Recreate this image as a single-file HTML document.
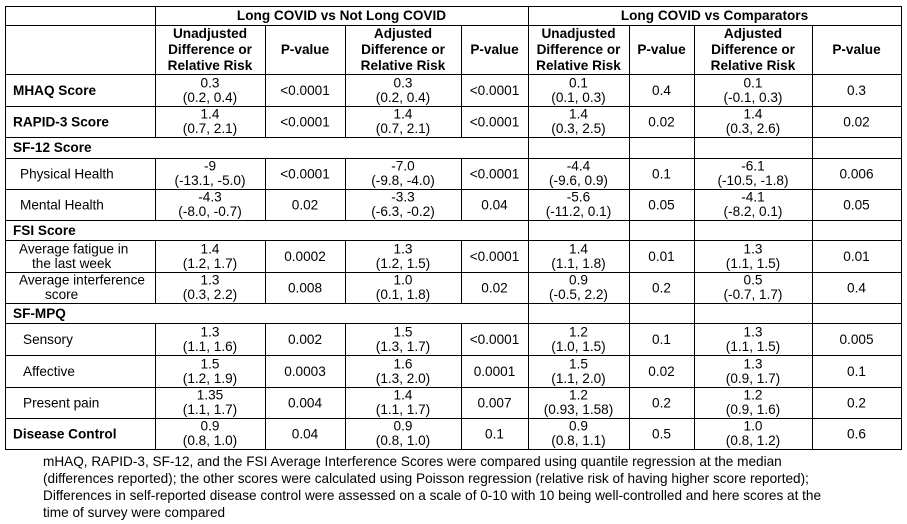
<!DOCTYPE html>
<html><head><meta charset="utf-8"><style>
html,body{margin:0;padding:0;background:#fff;}
svg{display:block;}
text{font-family:"Liberation Sans",Arial,sans-serif;font-size:13.6px;fill:#000;}
.b{font-weight:bold;}
.c{text-anchor:middle;}
</style></head><body>
<svg width="907" height="524" viewBox="0 0 907 524" xmlns="http://www.w3.org/2000/svg">
<rect width="907" height="524" fill="#fff"/>
<g fill="#000" shape-rendering="crispEdges">
<!-- horizontal -->
<rect x="5" y="6" width="897" height="1"/>
<rect x="5" y="25" width="897" height="1"/>
<rect x="5" y="74" width="897" height="1"/>
<rect x="5" y="106" width="897" height="1"/>
<rect x="5" y="137" width="897" height="1"/>
<rect x="5" y="158" width="897" height="1"/>
<rect x="5" y="189" width="897" height="1"/>
<rect x="5" y="220" width="897" height="1"/>
<rect x="5" y="240" width="897" height="1"/>
<rect x="5" y="272" width="897" height="1"/>
<rect x="5" y="303" width="897" height="1"/>
<rect x="5" y="323" width="897" height="1"/>
<rect x="5" y="355" width="897" height="1"/>
<rect x="5" y="387" width="897" height="1"/>
<rect x="5" y="418" width="897" height="1"/>
<rect x="5" y="449" width="897" height="1"/>
<!-- vertical -->
<rect x="5" y="6" width="1" height="444"/>
<rect x="528" y="6" width="1" height="444"/>
<rect x="901" y="6" width="1" height="444"/>
<rect x="629" y="25" width="1" height="425"/>
<rect x="694" y="25" width="1" height="425"/>
<rect x="812" y="25" width="1" height="425"/>
<rect x="155" y="6" width="1" height="131"/>
<rect x="155" y="158" width="1" height="62"/>
<rect x="155" y="240" width="1" height="63"/>
<rect x="155" y="323" width="1" height="127"/>
<rect x="265" y="25" width="1" height="112"/>
<rect x="265" y="158" width="1" height="62"/>
<rect x="265" y="240" width="1" height="63"/>
<rect x="265" y="323" width="1" height="127"/>
<rect x="345" y="25" width="1" height="112"/>
<rect x="345" y="158" width="1" height="62"/>
<rect x="345" y="240" width="1" height="63"/>
<rect x="345" y="323" width="1" height="127"/>
<rect x="461" y="25" width="1" height="112"/>
<rect x="461" y="158" width="1" height="62"/>
<rect x="461" y="240" width="1" height="63"/>
<rect x="461" y="323" width="1" height="127"/>
</g>

<!-- headers -->
<text class="b c" x="341.5" y="20">Long COVID vs Not Long COVID</text>
<text class="b c" x="714.5" y="20">Long COVID vs Comparators</text>

<text class="b c" x="210" y="38">Unadjusted</text>
<text class="b c" x="210" y="54">Difference or</text>
<text class="b c" x="210" y="70">Relative Risk</text>
<text class="b c" x="305" y="54">P-value</text>
<text class="b c" x="403" y="38">Adjusted</text>
<text class="b c" x="403" y="54">Difference or</text>
<text class="b c" x="403" y="70">Relative Risk</text>
<text class="b c" x="494.5" y="54">P-value</text>
<text class="b c" x="578.5" y="38">Unadjusted</text>
<text class="b c" x="578.5" y="54">Difference or</text>
<text class="b c" x="578.5" y="70">Relative Risk</text>
<text class="b c" x="661.5" y="54">P-value</text>
<text class="b c" x="753" y="38">Adjusted</text>
<text class="b c" x="753" y="54">Difference or</text>
<text class="b c" x="753" y="70">Relative Risk</text>
<text class="b c" x="856.5" y="54">P-value</text>

<!-- MHAQ 74-106 -->
<text class="b" x="13" y="95">MHAQ Score</text>
<text class="c" x="210" y="87.5">0.3</text><text class="c" x="210" y="102">(0.2, 0.4)</text>
<text class="c" x="305" y="95">&lt;0.0001</text>
<text class="c" x="403" y="87.5">0.3</text><text class="c" x="403" y="102">(0.2, 0.4)</text>
<text class="c" x="494.5" y="95">&lt;0.0001</text>
<text class="c" x="578.5" y="87.5">0.1</text><text class="c" x="578.5" y="102">(0.1, 0.3)</text>
<text class="c" x="661.5" y="95">0.4</text>
<text class="c" x="753" y="87.5">0.1</text><text class="c" x="753" y="102">(-0.1, 0.3)</text>
<text class="c" x="856.5" y="95">0.3</text>

<!-- RAPID 106-137 -->
<text class="b" x="13" y="126.5">RAPID-3 Score</text>
<text class="c" x="210" y="118.5">1.4</text><text class="c" x="210" y="133">(0.7, 2.1)</text>
<text class="c" x="305" y="126.5">&lt;0.0001</text>
<text class="c" x="403" y="118.5">1.4</text><text class="c" x="403" y="133">(0.7, 2.1)</text>
<text class="c" x="494.5" y="126.5">&lt;0.0001</text>
<text class="c" x="578.5" y="118.5">1.4</text><text class="c" x="578.5" y="133">(0.3, 2.5)</text>
<text class="c" x="661.5" y="126.5">0.02</text>
<text class="c" x="753" y="118.5">1.4</text><text class="c" x="753" y="133">(0.3, 2.6)</text>
<text class="c" x="856.5" y="126.5">0.02</text>

<!-- SF-12 137-158 -->
<text class="b" x="13" y="152">SF-12 Score</text>

<!-- Physical 158-189 -->
<text x="20" y="178.5">Physical Health</text>
<text class="c" x="210" y="170.5">-9</text><text class="c" x="210" y="185">(-13.1, -5.0)</text>
<text class="c" x="305" y="178.5">&lt;0.0001</text>
<text class="c" x="403" y="170.5">-7.0</text><text class="c" x="403" y="185">(-9.8, -4.0)</text>
<text class="c" x="494.5" y="178.5">&lt;0.0001</text>
<text class="c" x="578.5" y="170.5">-4.4</text><text class="c" x="578.5" y="185">(-9.6, 0.9)</text>
<text class="c" x="661.5" y="178.5">0.1</text>
<text class="c" x="753" y="170.5">-6.1</text><text class="c" x="753" y="185">(-10.5, -1.8)</text>
<text class="c" x="856.5" y="178.5">0.006</text>

<!-- Mental 189-220 -->
<text x="20" y="209.5">Mental Health</text>
<text class="c" x="210" y="201.5">-4.3</text><text class="c" x="210" y="216">(-8.0, -0.7)</text>
<text class="c" x="305" y="209.5">0.02</text>
<text class="c" x="403" y="201.5">-3.3</text><text class="c" x="403" y="216">(-6.3, -0.2)</text>
<text class="c" x="494.5" y="209.5">0.04</text>
<text class="c" x="578.5" y="201.5">-5.6</text><text class="c" x="578.5" y="216">(-11.2, 0.1)</text>
<text class="c" x="661.5" y="209.5">0.05</text>
<text class="c" x="753" y="201.5">-4.1</text><text class="c" x="753" y="216">(-8.2, 0.1)</text>
<text class="c" x="856.5" y="209.5">0.05</text>

<!-- FSI 220-240 -->
<text class="b" x="13" y="235">FSI Score</text>

<!-- Fatigue 240-272 -->
<text x="19" y="253.5">Average fatigue in</text>
<text x="32" y="268">the last week</text>
<text class="c" x="210" y="253.5">1.4</text><text class="c" x="210" y="268">(1.2, 1.7)</text>
<text class="c" x="305" y="261">0.0002</text>
<text class="c" x="403" y="253.5">1.3</text><text class="c" x="403" y="268">(1.2, 1.5)</text>
<text class="c" x="494.5" y="261">&lt;0.0001</text>
<text class="c" x="578.5" y="253.5">1.4</text><text class="c" x="578.5" y="268">(1.1, 1.8)</text>
<text class="c" x="661.5" y="261">0.01</text>
<text class="c" x="753" y="253.5">1.3</text><text class="c" x="753" y="268">(1.1, 1.5)</text>
<text class="c" x="856.5" y="261">0.01</text>

<!-- Interference 272-303 -->
<text x="19" y="284.5">Average interference</text>
<text x="45" y="299">score</text>
<text class="c" x="210" y="284.5">1.3</text><text class="c" x="210" y="299">(0.3, 2.2)</text>
<text class="c" x="305" y="292.5">0.008</text>
<text class="c" x="403" y="284.5">1.0</text><text class="c" x="403" y="299">(0.1, 1.8)</text>
<text class="c" x="494.5" y="292.5">0.02</text>
<text class="c" x="578.5" y="284.5">0.9</text><text class="c" x="578.5" y="299">(-0.5, 2.2)</text>
<text class="c" x="661.5" y="292.5">0.2</text>
<text class="c" x="753" y="284.5">0.5</text><text class="c" x="753" y="299">(-0.7, 1.7)</text>
<text class="c" x="856.5" y="292.5">0.4</text>

<!-- SF-MPQ 303-323 -->
<text class="b" x="13" y="318">SF-MPQ</text>

<!-- Sensory 323-355 -->
<text x="23" y="344">Sensory</text>
<text class="c" x="210" y="336.5">1.3</text><text class="c" x="210" y="351">(1.1, 1.6)</text>
<text class="c" x="305" y="344">0.002</text>
<text class="c" x="403" y="336.5">1.5</text><text class="c" x="403" y="351">(1.3, 1.7)</text>
<text class="c" x="494.5" y="344">&lt;0.0001</text>
<text class="c" x="578.5" y="336.5">1.2</text><text class="c" x="578.5" y="351">(1.0, 1.5)</text>
<text class="c" x="661.5" y="344">0.1</text>
<text class="c" x="753" y="336.5">1.3</text><text class="c" x="753" y="351">(1.1, 1.5)</text>
<text class="c" x="856.5" y="344">0.005</text>

<!-- Affective 355-387 -->
<text x="23" y="376">Affective</text>
<text class="c" x="210" y="368.5">1.5</text><text class="c" x="210" y="383">(1.2, 1.9)</text>
<text class="c" x="305" y="376">0.0003</text>
<text class="c" x="403" y="368.5">1.6</text><text class="c" x="403" y="383">(1.3, 2.0)</text>
<text class="c" x="494.5" y="376">0.0001</text>
<text class="c" x="578.5" y="368.5">1.5</text><text class="c" x="578.5" y="383">(1.1, 2.0)</text>
<text class="c" x="661.5" y="376">0.02</text>
<text class="c" x="753" y="368.5">1.3</text><text class="c" x="753" y="383">(0.9, 1.7)</text>
<text class="c" x="856.5" y="376">0.1</text>

<!-- Present pain 387-418 -->
<text x="23" y="407.5">Present pain</text>
<text class="c" x="210" y="399.5">1.35</text><text class="c" x="210" y="414">(1.1, 1.7)</text>
<text class="c" x="305" y="407.5">0.004</text>
<text class="c" x="403" y="399.5">1.4</text><text class="c" x="403" y="414">(1.1, 1.7)</text>
<text class="c" x="494.5" y="407.5">0.007</text>
<text class="c" x="578.5" y="399.5">1.2</text><text class="c" x="578.5" y="414">(0.93, 1.58)</text>
<text class="c" x="661.5" y="407.5">0.2</text>
<text class="c" x="753" y="399.5">1.2</text><text class="c" x="753" y="414">(0.9, 1.6)</text>
<text class="c" x="856.5" y="407.5">0.2</text>

<!-- Disease Control 418-449 -->
<text class="b" x="13" y="438.5">Disease Control</text>
<text class="c" x="210" y="430.5">0.9</text><text class="c" x="210" y="445">(0.8, 1.0)</text>
<text class="c" x="305" y="438.5">0.04</text>
<text class="c" x="403" y="430.5">0.9</text><text class="c" x="403" y="445">(0.8, 1.0)</text>
<text class="c" x="494.5" y="438.5">0.1</text>
<text class="c" x="578.5" y="430.5">0.9</text><text class="c" x="578.5" y="445">(0.8, 1.1)</text>
<text class="c" x="661.5" y="438.5">0.5</text>
<text class="c" x="753" y="430.5">1.0</text><text class="c" x="753" y="445">(0.8, 1.2)</text>
<text class="c" x="856.5" y="438.5">0.6</text>

<!-- footnote -->
<text x="43" y="466">mHAQ, RAPID-3, SF-12, and the FSI Average Interference Scores were compared using quantile regression at the median</text>
<text x="43" y="483">(differences reported); the other scores were calculated using Poisson regression (relative risk of having higher score reported);</text>
<text x="43" y="500">Differences in self-reported disease control were assessed on a scale of 0-10 with 10 being well-controlled and here scores at the</text>
<text x="43" y="517">time of survey were compared</text>
</svg>
</body></html>
